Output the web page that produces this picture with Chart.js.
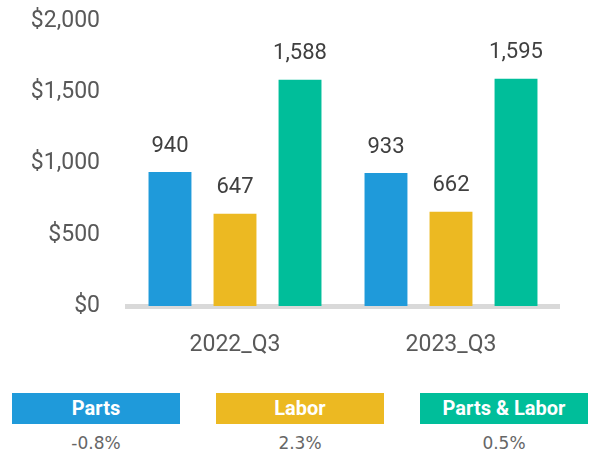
<!DOCTYPE html>
<html>
<head>
<meta charset="utf-8">
<script src="https://cdn.jsdelivr.net/npm/chart.js@4.4.0/dist/chart.umd.min.js"></script>
<style>
  html, body { margin: 0; padding: 0; background: #fff; }
  #wrap { position: relative; width: 593px; height: 454px; overflow: hidden; font-family: Roboto, "Liberation Sans", sans-serif; }
  #chartBox { position: absolute; left: 0; top: 0; width: 593px; height: 380px; }
  .lg { position: absolute; top: 393px; width: 168px; height: 31px; color: #fff; font-weight: bold; font-size: 20px; line-height: 31px; text-align: center; }
  .pct { position: absolute; top: 430px; width: 168px; height: 26px; color: #666; font-family: "DejaVu Sans", sans-serif; font-size: 17px; line-height: 26px; text-align: center; }
</style>
</head>
<body>
<div id="wrap">
  <div id="chartBox"><canvas id="c"></canvas></div>
  <div id="legend"></div>
</div>
<script>
const categories = ["2022_Q3", "2023_Q3"];
const seriesNames = ["Parts", "Labor", "Parts & Labor"];
const partsValues = [940, 933];
const laborValues = [647, 662];
const partsLaborValues = [1588, 1595];
const changeLabels = ["-0.8%", "2.3%", "0.5%"];
const yTicks = [0, 500, 1000, 1500, 2000];
const colors = ["#1F9ADA", "#ECB922", "#00BE9A"];

const legendLefts = [12, 216, 420];
const legend = document.getElementById('legend');
seriesNames.forEach((n, i) => {
  const b = document.createElement('div');
  b.className = 'lg';
  b.style.left = legendLefts[i] + 'px';
  b.style.background = colors[i];
  b.textContent = n;
  legend.appendChild(b);
  const p = document.createElement('div');
  p.className = 'pct';
  p.style.left = legendLefts[i] + 'px';
  p.textContent = changeLabels[i];
  legend.appendChild(p);
});

const valueLabels = {
  id: 'valueLabels',
  afterDatasetsDraw(chart) {
    const ctx = chart.ctx;
    ctx.save();
    ctx.font = '22px Roboto, "Liberation Sans", sans-serif';
    ctx.fillStyle = '#404040';
    ctx.textAlign = 'center';
    ctx.textBaseline = 'middle';
    chart.data.datasets.forEach((ds, di) => {
      const meta = chart.getDatasetMeta(di);
      meta.data.forEach((bar, i) => {
        ctx.fillText(ds.data[i].toLocaleString('en-US'), bar.x, bar.y - 26);
      });
    });
    ctx.restore();
  }
};

new Chart(document.getElementById('c'), {
  type: 'bar',
  data: {
    labels: categories,
    datasets: [
      { label: seriesNames[0], data: partsValues, backgroundColor: colors[0] },
      { label: seriesNames[1], data: laborValues, backgroundColor: colors[1] },
      { label: seriesNames[2], data: partsLaborValues, backgroundColor: colors[2] }
    ]
  },
  options: {
    responsive: true,
    maintainAspectRatio: false,
    animation: false,
    datasets: { bar: { categoryPercentage: 0.903, barPercentage: 0.66 } },
    layout: { padding: { left: 0, right: 34, top: 21, bottom: 0 } },
    plugins: { legend: { display: false }, tooltip: { enabled: false } },
    scales: {
      x: {
        grid: { display: false, drawTicks: false },
        border: { display: true, color: '#D9D9D9', width: 5 },
        ticks: { color: '#595959', font: { size: 23, family: 'Roboto' }, padding: 25 },
        afterFit: s => { s.height = 74; }
      },
      y: {
        min: 0, max: 2000,
        afterBuildTicks: s => { s.ticks = yTicks.map(v => ({ value: v })); },
        grid: { display: false, drawTicks: false },
        border: { display: false },
        ticks: {
          color: '#595959', font: { size: 23, family: 'Roboto' }, padding: 27,
          callback: v => '$' + Number(v).toLocaleString('en-US')
        },
        afterFit: s => { s.width = 127; s.paddingTop = 0; s.paddingBottom = 0; }
      }
    }
  },
  plugins: [valueLabels]
});
</script>
</body>
</html>
